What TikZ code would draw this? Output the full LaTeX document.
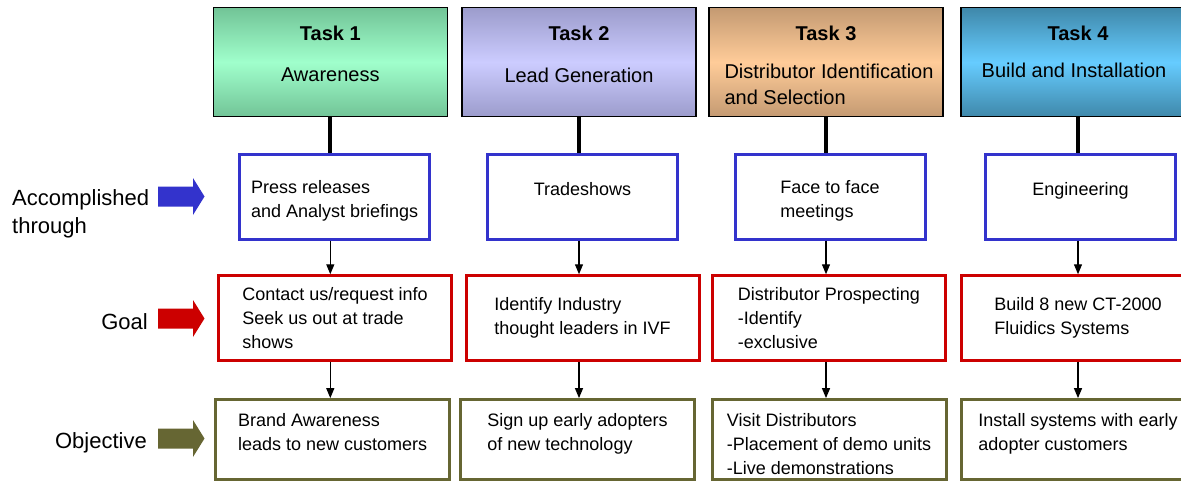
\documentclass[tikz,border=0pt]{standalone}
\usepackage{fontspec}
\setmainfont{Liberation Sans}
\usetikzlibrary{arrows.meta,positioning}

\definecolor{acccol}{HTML}{3333CC}
\definecolor{goalcol}{HTML}{CC0000}
\definecolor{objcol}{HTML}{666633}
\definecolor{greenmid}{HTML}{A0FFCC}
\definecolor{greenedge}{HTML}{72C497}
\definecolor{lilacmid}{HTML}{CCCCFF}
\definecolor{lilacedge}{HTML}{9C9CCC}
\definecolor{peachmid}{HTML}{FFCC99}
\definecolor{peachedge}{HTML}{C49A72}
\definecolor{skymid}{HTML}{66CCFF}
\definecolor{skyedge}{HTML}{3F88AA}

% pushes a box text a little lower
\newcommand{\droptext}{\rule{0pt}{21pt}}

\tikzset{
	taskbox/.style={draw=black, line width=1.5pt, minimum width=234pt, minimum height=109pt, inner sep=0pt},
	tasktitle/.style={font=\fontsize{20}{26}\selectfont\bfseries, inner sep=0pt, anchor=north},
	tasksub/.style={font=\fontsize{20}{26}\selectfont, align=left, inner sep=0pt, anchor=north},
	stepbox/.style={line width=3pt, fill=white, align=left, inner sep=0pt, font=\fontsize{18}{24}\selectfont},
	accbox/.style={stepbox, draw=acccol, minimum width=190pt, minimum height=85pt},
	goalbox/.style={stepbox, draw=goalcol, minimum width=233pt, minimum height=84.5pt},
	objbox/.style={stepbox, draw=objcol, minimum width=234pt, minimum height=80pt},
	stem/.style={line width=4pt},
	arr/.style={line width=1.3pt, -{Triangle[length=10pt,width=8pt]}},
	side/.style={font=\fontsize{22}{28}\selectfont, inner sep=0pt, align=left},
}

\begin{document}
\begin{tikzpicture}[x=1pt, y=-1pt]
	\useasboundingbox (0,0) rectangle (1181,482);
	\clip (0,0) rectangle (1181,482);

	% task headers
	\node[taskbox, top color=greenedge, bottom color=greenedge, middle color=greenmid] (task1) at (330.3,62.2) {};
	\node[taskbox, top color=lilacedge, bottom color=lilacedge, middle color=lilacmid] (task2) at (579,62.2) {};
	\node[taskbox, top color=peachedge, bottom color=peachedge, middle color=peachmid] (task3) at (826,62.2) {};
	\node[taskbox, top color=skyedge, bottom color=skyedge, middle color=skymid] (task4) at (1078,62.2) {};

	\node[tasktitle] (title1) at ([yshift=-19pt]task1.north) {Task 1};
	\node[tasktitle] (title2) at ([yshift=-19pt]task2.north) {Task 2};
	\node[tasktitle] (title3) at ([yshift=-19pt]task3.north) {Task 3};
	\node[tasktitle] (title4) at ([yshift=-19pt]task4.north) {Task 4};

	\node[tasksub] (sub1) at ([yshift=-61pt]task1.north) {Awareness};
	\node[tasksub] (sub2) at ([yshift=-61pt]task2.north) {Lead Generation};
	\node[tasksub] (sub3) at ([xshift=3pt, yshift=-57pt]task3.north) {Distributor Identification\\and Selection};
	\node[tasksub] (sub4) at ([xshift=-4pt, yshift=-56pt]task4.north) {Build and Installation};

	% accomplished through
	\node[accbox] (acc1) at (334.6,196.7) {\droptext Press releases\\and Analyst briefings};
	\node[accbox] (acc2) at (582.5,196.7) {\droptext Tradeshows\\~};
	\node[accbox] (acc3) at (830,196.7) {\droptext Face to face\\meetings};
	\node[accbox] (acc4) at (1080.5,196.7) {\droptext Engineering\\~};

	% goals
	\node[goalbox] (goal1) at (335,318) {Contact us/request info\\Seek us out at trade\\shows};
	\node[goalbox] (goal2) at (582.5,318) {Identify Industry\\thought leaders in IVF};
	\node[goalbox] (goal3) at (829,318) {Distributor Prospecting\\-Identify\\-exclusive};
	\node[goalbox] (goal4) at (1078,318) {Build 8 new CT-2000\\Fluidics Systems};

	% objectives
	\node[objbox] (obj1) at (332.7,439.6) {\droptext Brand Awareness\\leads to new customers\\~};
	\node[objbox] (obj2) at (577.5,439.6) {\droptext Sign up early adopters\\of new technology\\~};
	\node[objbox] (obj3) at (829,439.6) {\droptext Visit Distributors\\-Placement of demo units\\-Live demonstrations};
	\node[objbox] (obj4) at (1078,439.6) {\droptext Install systems with early\\adopter customers\\~};

	% links
	\draw[stem] (task1.south) -- (task1.south |- acc1.north);
	\draw[stem] (task2.south) -- (task2.south |- acc2.north);
	\draw[stem] (task3.south) -- (task3.south |- acc3.north);
	\draw[stem] (task4.south) -- (task4.south |- acc4.north);

	\draw[arr] (task1.south |- acc1.south) -- (task1.south |- goal1.north);
	\draw[arr] (task2.south |- acc2.south) -- (task2.south |- goal2.north);
	\draw[arr] (task3.south |- acc3.south) -- (task3.south |- goal3.north);
	\draw[arr] (task4.south |- acc4.south) -- (task4.south |- goal4.north);

	\draw[arr] (task1.south |- goal1.south) -- (task1.south |- obj1.north);
	\draw[arr] (task2.south |- goal2.south) -- (task2.south |- obj2.north);
	\draw[arr] (task3.south |- goal3.south) -- (task3.south |- obj3.north);
	\draw[arr] (task4.south |- goal4.south) -- (task4.south |- obj4.north);

	% row labels
	\node[side, anchor=north west] (acclabel) at (12,189) {Accomplished\\through};
	\node[side, anchor=base east] (goallabel) at (148,329) {Goal};
	\node[side, anchor=base east] (objlabel) at (147,448) {Objective};

	\foreach \y/\c in {196.5/acccol, 318.5/goalcol, 438.5/objcol}
		\fill[\c] (158,\y-10) -- (193,\y-10) -- (193,\y-18.5) -- (204.5,\y) -- (193,\y+18.5) -- (193,\y+10) -- (158,\y+10) -- cycle;
\end{tikzpicture}
\end{document}
